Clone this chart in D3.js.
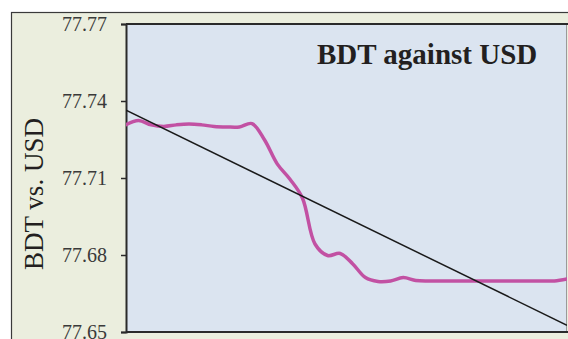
<!DOCTYPE html>
<html>
<head>
<meta charset="utf-8">
<script src="https://cdn.jsdelivr.net/npm/d3@7"></script>
<style>
  html, body { margin: 0; padding: 0; background: #ffffff; }
  svg { display: block; }
</style>
</head>
<body>
<svg id="chart" width="568" height="339"></svg>
<script>
// ---- data ----
const observations = [
  77.7308, 77.7324, 77.7307, 77.7301, 77.7307, 77.7310, 77.7307, 77.7301, 77.7299, 77.7299,
  77.7312, 77.7248, 77.7155, 77.7096, 77.7022, 77.6843, 77.6798, 77.6806, 77.6765, 77.6712,
  77.6697, 77.6699, 77.6712, 77.6701, 77.6699, 77.6699, 77.6699, 77.6699, 77.6699, 77.6699,
  77.6699, 77.6699, 77.6699, 77.6699, 77.6699, 77.6707
];
const yTicks = [77.65, 77.68, 77.71, 77.74, 77.77];
const yDomain = [77.65, 77.77];
const titleText = "BDT against USD";
const yLabelText = "BDT vs. USD";

// ---- layout ----
const W = 568, H = 339;
const plot = { left: 126, top: 24, right: 567, bottom: 332 };
const serif = "'Liberation Serif', 'Times New Roman', Times, serif";

const svg = d3.select("#chart");

// outer frame
svg.append("rect")
  .attr("x", 11.5).attr("y", 12.5)
  .attr("width", 570).attr("height", 340)
  .attr("fill", "#EBEEDE")
  .attr("stroke", "#3a3a3a").attr("stroke-width", 1.2);

// plot area
svg.append("rect")
  .attr("x", plot.left).attr("y", plot.top)
  .attr("width", plot.right - plot.left).attr("height", plot.bottom - plot.top)
  .attr("fill", "#DBE4F0");
svg.append("line")
  .attr("x1", plot.right - 0.5).attr("x2", plot.right - 0.5)
  .attr("y1", plot.top).attr("y2", plot.bottom)
  .attr("stroke", "#9a9a9a").attr("stroke-width", 1);
svg.append("line")
  .attr("x1", plot.left).attr("x2", W)
  .attr("y1", plot.top).attr("y2", plot.top)
  .attr("stroke", "#2a2a2a").attr("stroke-width", 2);
svg.append("line")
  .attr("x1", plot.left).attr("x2", W)
  .attr("y1", plot.bottom).attr("y2", plot.bottom)
  .attr("stroke", "#2a2a2a").attr("stroke-width", 2);

// scales
const x = d3.scaleLinear().domain([0, observations.length - 1]).range([plot.left, plot.right]);
const y = d3.scaleLinear().domain(yDomain).range([plot.bottom, plot.top]);

// y axis
const yAxis = svg.append("g")
  .attr("transform", `translate(${plot.left},0)`)
  .call(d3.axisLeft(y).tickValues(yTicks).tickFormat(d3.format(".2f")).tickSize(5).tickPadding(14));
yAxis.select(".domain").attr("stroke", "#2a2a2a").attr("stroke-width", 2);
yAxis.selectAll(".tick line").attr("stroke", "#2a2a2a").attr("stroke-width", 1.5);
yAxis.selectAll(".tick text")
  .attr("font-family", serif).attr("font-size", 20).attr("fill", "#3a3a3a");

// series line
svg.append("clipPath").attr("id", "plotclip")
  .append("rect")
  .attr("x", plot.left).attr("y", plot.top)
  .attr("width", plot.right - plot.left).attr("height", plot.bottom - plot.top);

const line = d3.line()
  .x((d, i) => x(i))
  .y(d => y(d))
  .curve(d3.curveCatmullRom.alpha(0.5));

svg.append("path")
  .datum(observations)
  .attr("clip-path", "url(#plotclip)")
  .attr("d", line)
  .attr("fill", "none")
  .attr("stroke", "#C251A3")
  .attr("stroke-width", 3.5)
  .attr("stroke-linejoin", "round")
  .attr("stroke-linecap", "round");

// linear trend line (least squares over the series)
const n = observations.length;
const xs = d3.range(n);
const mx = d3.mean(xs), my = d3.mean(observations);
const sxy = d3.sum(xs, i => (i - mx) * (observations[i] - my));
const sxx = d3.sum(xs, i => (i - mx) * (i - mx));
const slope = sxy / sxx, intercept = my - slope * mx;
const trend = [0, n - 1].map(i => ({ i, v: intercept + slope * i }));

svg.append("path")
  .datum(trend)
  .attr("clip-path", "url(#plotclip)")
  .attr("d", d3.line().x(d => x(d.i)).y(d => y(d.v)))
  .attr("fill", "none")
  .attr("stroke", "#1a1a1a")
  .attr("stroke-width", 1.5);

// title
svg.append("text")
  .attr("x", 317).attr("y", 64)
  .attr("font-family", serif).attr("font-size", 29).attr("font-weight", "bold")
  .attr("fill", "#231F20")
  .text(titleText);

// y label
svg.append("text")
  .attr("transform", "translate(43,194) rotate(-90)")
  .attr("text-anchor", "middle")
  .attr("font-family", serif).attr("font-size", 27)
  .attr("fill", "#231F20")
  .text(yLabelText);
</script>
</body>
</html>
